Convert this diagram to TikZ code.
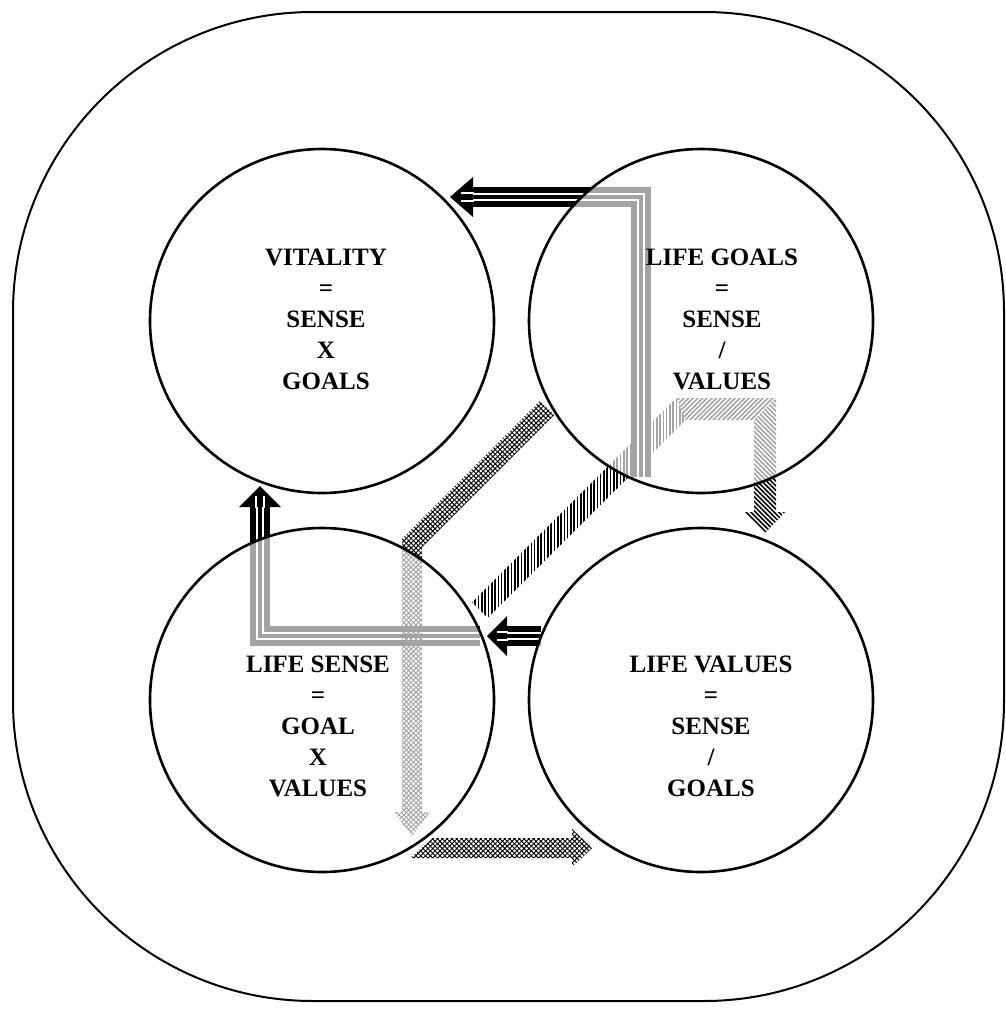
\documentclass[tikz,border=0pt]{standalone}
\usepackage{fontspec}
\setmainfont{Liberation Serif}
\usetikzlibrary{patterns.meta}
\begin{document}
\begin{tikzpicture}[x=1pt,y=-1pt,
  ring/.style={circle,draw=black,line width=2.6pt,fill=white,fill opacity=0.64,draw opacity=1,minimum size=344pt,inner sep=0pt,outer sep=0pt},
  lbl/.style={align=center,font=\fontsize{25}{31}\selectfont\bfseries,inner sep=0pt},
  frame/.style={draw=black,line width=2pt,rounded corners=300pt},
  checker/.style={pattern={Lines[angle=45,distance=3.4pt,line width=0.95pt]},pattern color=black,
     postaction={pattern={Lines[angle=-45,distance=3.4pt,line width=0.95pt]},pattern color=black}},
  vstripe/.style={pattern={Lines[angle=90,distance=3.3pt,line width=1.6pt]},pattern color=black},
  nestripe/.style={pattern={Lines[angle=45,distance=3.3pt,line width=1.6pt]},pattern color=black},
  nwstripe/.style={pattern={Lines[angle=-45,distance=3.3pt,line width=1.6pt]},pattern color=black},
  gapline/.style={white,line width=1.9pt}
]
\useasboundingbox (0,0) rectangle (1006,1012);
\draw[frame] (13,12) rectangle (1004,1001);

% ---- arrow D (vertical-striped, bent) ----
\fill[vstripe] (472.2,602.2) -- (676.44,398) -- (685.56,420) -- (487.8,617.8) -- cycle;
\fill[nestripe] (676.44,398) -- (776,398) -- (754,420) -- (685.56,420) -- cycle;
\fill[nwstripe] (776,398) -- (776,512) -- (785,512) -- (765,533) -- (745,512) -- (754,512) -- (754,420) -- cycle;

% ---- arrow A (black, striped) ----
\foreach \w/\c in {20/black,8.5/white,4.7/black}
  \draw[line width=\w pt,\c,line join=miter] (641,477) -- (641,197) -- (471,197);
\fill (473,177) -- (450,197) -- (473,217) -- cycle;
\draw[gapline] (474,193.3) -- (461,193.3) (474,200.7) -- (461,200.7);

% ---- arrow L (black, striped, bent up) ----
\foreach \w/\c in {20/black,8.5/white,4.7/black}
  \draw[line width=\w pt,\c,line join=miter] (480,636) -- (260,636) -- (260,505);
\fill (239,507) -- (260,486) -- (281,507) -- cycle;
\draw[gapline] (256.3,508) -- (256.3,496) (263.7,508) -- (263.7,496);

% ---- arrow C+E (checkered, bent down) ----
\fill[checker] (539.9,400.9) -- (402,538.8) -- (402,812) -- (394,812) -- (412,836) -- (430,812) -- (422,812) -- (422,547.2) -- (554.1,415.1) -- cycle;

% ---- arrow B (black, striped, left) ----
\foreach \w/\c in {20/black,8.5/white,4.7/black}
  \draw[line width=\w pt,\c] (541,636) -- (505,636);
\fill (507,616) -- (487,636) -- (507,656) -- cycle;
\draw[gapline] (508,632.3) -- (497,632.3) (508,639.7) -- (497,639.7);

% ---- arrow F (checkered, right) ----
\fill[checker] (433,838) -- (572,838) -- (572,829) -- (592,848) -- (572,867) -- (572,858) -- (410,858) -- cycle;

% ---- circles ----
\node[ring] (vit) at (322,321) {};
\node[ring] (goals) at (701,321) {};
\node[ring] (sense) at (322,700) {};
\node[ring] (values) at (701,700) {};

% ---- labels ----
\node[lbl] (vittext) at (326,319) {VITALITY\\=\\SENSE\\X\\GOALS};
\node[lbl] (goalstext) at (722,319) {LIFE GOALS\\=\\SENSE\\/\\VALUES};
\node[lbl] (sensetext) at (318,726) {LIFE SENSE\\=\\GOAL\\X\\VALUES};
\node[lbl] (valuestext) at (711,726) {LIFE VALUES\\=\\SENSE\\/\\GOALS};
\end{tikzpicture}
\end{document}
